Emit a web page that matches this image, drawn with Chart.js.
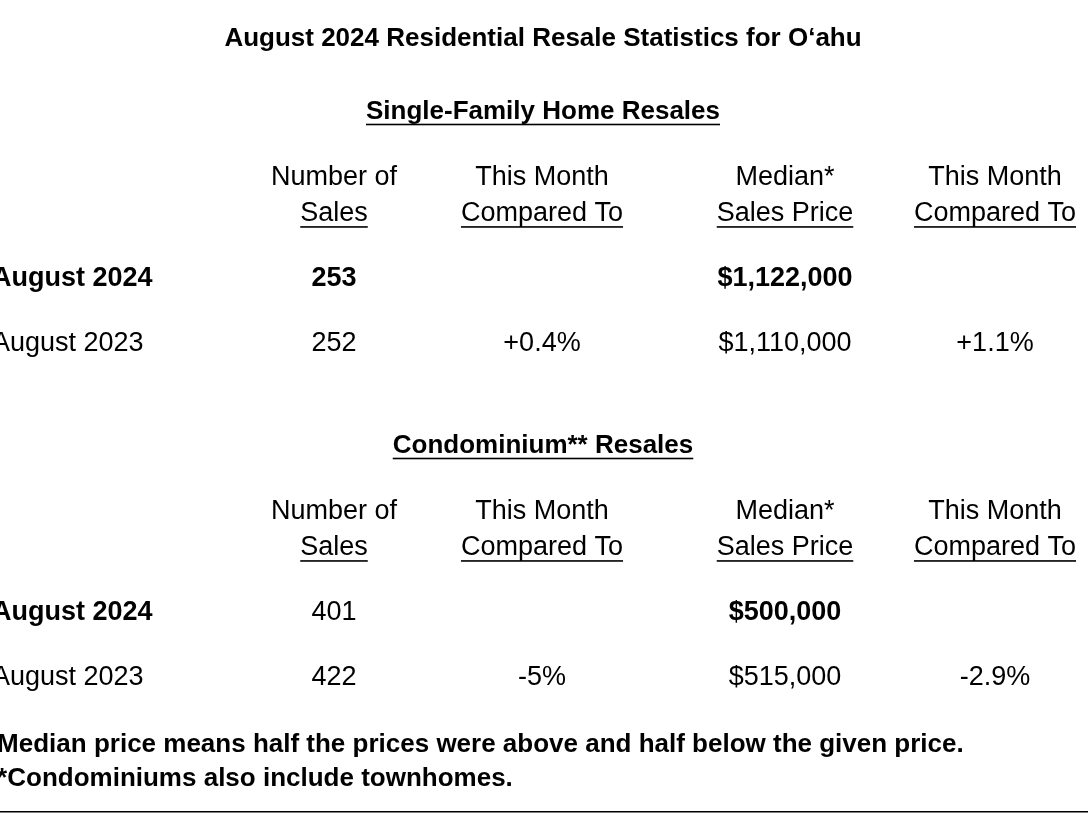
<!DOCTYPE html>
<html><head><meta charset="utf-8">
<script src="https://cdn.jsdelivr.net/npm/chart.js@4"></script>
<style>html,body{margin:0;padding:0;background:#fff;overflow:hidden}#wrap{width:1088px;height:816px}</style>
</head><body><div id="wrap"><canvas id="c"></canvas></div>
<script>
const title = "August 2024 Residential Resale Statistics for O\u2018ahu";
const sections = ["Single-Family Home Resales", "Condominium** Resales"];
const headerTop = ["Number of", "This Month", "Median*", "This Month"];
const headerBottom = ["Sales", "Compared To", "Sales Price", "Compared To"];
const rowLabels = ["August 2024", "August 2023"];
const sfhSales = ["253", "252"];
const sfhChange = ["", "+0.4%"];
const sfhPrice = ["$1,122,000", "$1,110,000"];
const sfhPriceChange = ["", "+1.1%"];
const condoSales = ["401", "422"];
const condoChange = ["", "-5%"];
const condoPrice = ["$500,000", "$515,000"];
const condoPriceChange = ["", "-2.9%"];
const footnotes = ["*Median price means half the prices were above and half below the given price.", "**Condominiums also include townhomes."];

const F = "'Liberation Sans', Arial, Helvetica, sans-serif";
const colX = [334, 542, 785, 995];

function txt(ctx, s, x, y, bold, align, underline, size) {
  size = size || 27;
  ctx.font = (bold ? "bold " : "") + size + "px " + F;
  ctx.textAlign = align; ctx.textBaseline = "middle"; ctx.fillStyle = "#000";
  ctx.fillText(s, x, y);
  if (underline) {
    const w = ctx.measureText(s).width;
    const x0 = align === "center" ? x - w / 2 : x;
    ctx.fillRect(x0, y + size * 0.45, w, 1.6);
  }
}

const tablePlugin = {
  id: "table",
  afterDraw(chart) {
    const ctx = chart.ctx;
    ctx.save();
    txt(ctx, title, 543, 39, true, "center", false, 26);
    const blocks = [
      {y: 0, data: [sfhSales, sfhChange, sfhPrice, sfhPriceChange], bold: [[true,false,true,false],[false,false,false,false]]},
      {y: 334, data: [condoSales, condoChange, condoPrice, condoPriceChange], bold: [[false,false,true,false],[false,false,false,false]]}
    ];
    blocks.forEach((b, i) => {
      const oy = b.y;
      txt(ctx, sections[i], 543, 112 + oy, true, "center", true, 26);
      headerTop.forEach((h, k) => txt(ctx, h, colX[k], 178 + oy, false, "center", false));
      headerBottom.forEach((h, k) => txt(ctx, h, colX[k], 214 + oy, false, "center", true));
      rowLabels.forEach((lab, r) => {
        const y = 279 + r * 65 + oy;
        txt(ctx, lab, -8, y, r === 0, "left", false);
        b.data.forEach((col, k) => { if (col[r]) txt(ctx, col[r], colX[k], y, b.bold[r][k], "center", false); });
      });
    });
    txt(ctx, footnotes[0], -13, 745, true, "left", false, 26);
    txt(ctx, footnotes[1], -13, 779, true, "left", false, 26);
    ctx.fillStyle = "#000";
    ctx.fillRect(0, 811, 1088, 1.5);
    ctx.restore();
  }
};

new Chart(document.getElementById("c"), {
  type: "bar",
  data: { labels: rowLabels, datasets: [] },
  options: {
    responsive: true, maintainAspectRatio: false, animation: false,
    plugins: { legend: { display: false }, tooltip: { enabled: false } },
    scales: { x: { display: false }, y: { display: false } }
  },
  plugins: [tablePlugin]
});
</script></body></html>
